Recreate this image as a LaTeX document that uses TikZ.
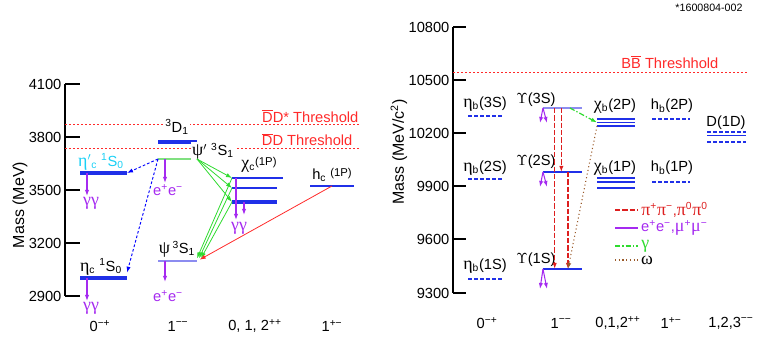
\documentclass[tikz,border=0pt]{standalone}
\usepackage{fontspec}
\setmainfont{Liberation Sans}
\newfontfamily\grk[Scale=1.22]{Liberation Serif}
\usepackage{tikz}
\usetikzlibrary{arrows.meta,calc}
\definecolor{lvl}{HTML}{2030E8}
\definecolor{lvllt}{HTML}{8C8CF0}
\definecolor{lvlgr}{HTML}{80E080}
\definecolor{cy}{HTML}{19D0F5}
\definecolor{vio}{HTML}{A52AF0}
\definecolor{rd}{HTML}{FF2A2A}
\definecolor{drd}{HTML}{DD1F1F}
\definecolor{grn}{HTML}{2EDB2E}
\definecolor{brn}{HTML}{9A5A2A}
\newcommand{\gk}[1]{{\grk #1}}
\newcommand{\lvl}[5][bar]{%
  \coordinate (#2-w) at (#3,#5); \coordinate (#2-e) at (#4,#5);
  \draw[#1] (#2-w) -- (#2-e);}
\tikzset{
  >={Latex[length=4.5pt,width=3.2pt]},
  bar/.style={draw=lvl,line width=1.4pt},
  tbar/.style={bar,line width=2.6pt},
  hbar/.style={bar,line width=1.1pt},
  gbar/.style={draw=lvlgr,line width=1pt},
  ubar/.style={draw=lvllt,line width=1.1pt},
  dbar/.style={bar,line width=1.2pt,dash pattern=on 3pt off 1.5pt},
  lab/.style={font=\fontsize{11}{12}\selectfont,inner sep=1pt},
  wlab/.style={lab,fill=white},
  vlab/.style={lab,text=vio},
  leg/.style={lab,right,inner sep=0pt,xshift=2pt},
  tick/.style={font=\fontsize{11}{12}\selectfont,anchor=east,inner sep=1pt},
  ttl/.style={font=\fontsize{12}{13}\selectfont,rotate=90},
  axis/.style={draw=black,line width=0.8pt},
  thr/.style={draw=rd,line width=0.7pt,dash pattern=on 1.5pt off 1.5pt},
  varr/.style={->,draw=vio,line width=0.8pt},
  garr/.style={->,draw=grn,line width=0.6pt},
  rarr/.style={->,draw=rd,line width=0.6pt},
  barr/.style={->,draw=blue,line width=0.7pt,dash pattern=on 2pt off 1.5pt},
  parr/.style={->,draw=drd,line width=1.1pt,dash pattern=on 4pt off 1.5pt},
  gdarr/.style={->,draw=grn,line width=0.9pt,dash pattern=on 4pt off 1.5pt on 1pt off 1.5pt},
  warr/.style={->,draw=brn,line width=0.8pt,dotted},
}
\begin{document}
\begin{tikzpicture}[x=0.75pt,y=-0.75pt]
\useasboundingbox (0,0) rectangle (761,341);
% charmonium
\draw[axis] (65,84) -- (65,296);
\foreach \m/\y in {4100/84,3800/137,3500/190,3200/243,2900/296}
  {\draw[axis] (65,\y) -- (80,\y); \node[tick] (lt\m) at (63,\y) {\m};}
\node[ttl] (ytl) at (20,205) {Mass (MeV)};
\draw[thr] (65,124) -- (360,124) coordinate (t1);
\draw[thr] (65,148) -- (360,148) coordinate (t2);
\node[lab,text=rd,anchor=base east] (t1L) at (360,122.5) {$\overline{\mbox{D}}$D* Threshold};
\node[lab,text=rd,anchor=base east] (t2L) at (354,146) {$\overline{\mbox{D}}$D Threshold};
\lvl[tbar]{etacp}{80}{127}{173}
\lvl[tbar]{etac}{80}{127}{278}
\lvl[tbar]{dd}{158}{197}{142}
\lvl[gbar]{psip}{158}{197}{159}
\lvl[ubar]{psi}{158}{197}{261}
\lvl{chi2}{232}{283}{178}
\lvl{chi1}{232}{277}{188}
\lvl[tbar]{chi0}{232}{277}{202}
\lvl{hc}{310}{354}{186}
\node[lab,text=cy] (etacpL) at (101,162) {\gk{η}$'$\textsubscript{c} \textsuperscript{1}S\textsubscript{0}};
\node[lab] (etacL) at (101,267) {\gk{η}\textsubscript{c} \textsuperscript{1}S\textsubscript{0}};
\node[wlab] (ddL) at (177,127) {\textsuperscript{3}D\textsubscript{1}};
\node[wlab] (psipL) at (213,151) {\gk{ψ}$'$ \textsuperscript{3}S\textsubscript{1}};
\node[lab] (psiL) at (177,249) {\gk{ψ}\,\textsuperscript{3}S\textsubscript{1}};
\node[lab] (chiL) at (259,165) {\gk{χ}\textsubscript{c}\raisebox{2pt}{\fontsize{8.5}{9}\selectfont(1P)}};
\node[lab] (hcL) at (332,175) {h\textsubscript{c} \raisebox{2pt}{\fontsize{8.5}{9}\selectfont(1P)}};
\draw[varr] (etacp-w) ++(7,0) -- ++(0,23);
\node[vlab] (gg1) at (91,203) {\gk{γγ}};
\draw[varr] (etac-w) ++(7,0) -- ++(0,23);
\node[vlab] (gg2) at (91,308) {\gk{γγ}};
\draw[varr] (psip-w) ++(7,0) -- ++(0,24);
\node[vlab] (ee1) at (168,190) {e\textsuperscript{+}e\textsuperscript{−}};
\draw[varr] (psi-w) ++(7,0) -- ++(0,21);
\node[vlab] (ee2) at (168,296) {e\textsuperscript{+}e\textsuperscript{−}};
\draw[varr] (chi2-w) ++(4,0) -- ++(0,42);
\draw[varr] (chi0-w) ++(12,0) -- ++(0,13);
\node[vlab] (gg3) at (239,228) {\gk{γγ}};
\foreach \c in {chi2,chi1,chi0} \draw[garr] (psip-e) -- (\c-w);
\foreach \c/\s in {chi2/0,chi1/1.5,chi0/3} \draw[garr] (\c-w) -- ([xshift=\s pt,yshift=2pt]psi-e);
\draw[rarr] ($(hc-w)!.5!(hc-e)$) -- ([xshift=2pt,yshift=1pt]psi-e);
\draw[barr] (psip-w) -- (etacp-e);
\draw[barr] (psip-w) -- ([yshift=4pt]etac-e);
\node[lab] (jl1) at (100,326) {0\textsuperscript{−+}};
\node[lab] (jl2) at (178,326) {1\textsuperscript{−−}};
\node[lab] (jl3) at (255,326) {0, 1, 2\textsuperscript{++}};
\node[lab] (jl4) at (332,326) {1\textsuperscript{+−}};
% bottomonium
\node[font=\fontsize{8}{9}\selectfont] (tag) at (709,8) {*1600804-002};
\draw[axis] (453,27) -- (453,293);
\foreach \m/\y in {10800/27,10500/80,10200/133,9900/186,9600/239,9300/293}
  {\draw[axis] (453,\y) -- (466,\y); \node[tick] (rt\m) at (451,\y) {\m};}
\node[ttl] (ytr) at (399,152) {Mass (MeV/c\textsuperscript{2})};
\draw[thr] (453,72) -- (747,72) coordinate (t3);
\node[lab,text=rd,anchor=base east] (t3L) at (720,68.5) {B$\overline{\mbox{B}}$ Threshhold};
\lvl[ubar]{Y3}{543}{582}{108}
\lvl[hbar]{Y2}{543}{582}{172}
\lvl[hbar]{Y1}{543}{582}{269}
\lvl[dbar]{eb3}{468}{504}{116}
\lvl[dbar]{eb2}{468}{504}{179}
\lvl[dbar]{eb1}{468}{504}{279}
\lvl[hbar]{cb2a}{597}{635}{119}
\lvl[hbar]{cb2b}{597}{635}{122.5}
\lvl[hbar]{cb2c}{597}{635}{126}
\lvl[hbar]{cb1a}{597}{635}{178}
\lvl[hbar]{cb1b}{597}{635}{182}
\lvl[hbar]{cb1c}{597}{635}{188}
\lvl[dbar]{hb2}{652}{690}{119}
\lvl[dbar]{hb1}{652}{690}{182}
\lvl[dbar]{d1a}{707}{746}{132}
\lvl[hbar]{d1b}{707}{746}{135.5}
\lvl[dbar]{d1c}{707}{746}{142}
\node[lab] (Y3L) at (536,100) {$\Upsilon$(3S)};
\node[lab] (Y2L) at (536,162) {$\Upsilon$(2S)};
\node[lab] (Y1L) at (536,260) {$\Upsilon$(1S)};
\node[lab] (eb3L) at (485,104) {\gk{η}\textsubscript{b}(3S)};
\node[lab] (eb2L) at (485,168) {\gk{η}\textsubscript{b}(2S)};
\node[lab] (eb1L) at (485,266) {\gk{η}\textsubscript{b}(1S)};
\node[lab] (cb2L) at (615,106) {\gk{χ}\textsubscript{b}(2P)};
\node[lab] (cb1L) at (615,168) {\gk{χ}\textsubscript{b}(1P)};
\node[lab] (hb2L) at (672,106) {h\textsubscript{b}(2P)};
\node[lab] (hb1L) at (672,168) {h\textsubscript{b}(1P)};
\node[lab] (d1L) at (726,123) {D(1D)};
\draw[parr] ($(Y3-w)!.3!(Y3-e)$) -- ($(Y1-w)!.3!(Y1-e)$);
\draw[parr] ($(Y3-w)!.47!(Y3-e)$) -- ($(Y2-w)!.47!(Y2-e)$);
\draw[parr] ($(Y2-w)!.64!(Y2-e)$) -- ($(Y1-w)!.64!(Y1-e)$);
\draw[gdarr] ($(Y3-w)!.69!(Y3-e)$) -- (cb2b-w);
\draw[warr] (cb2c-w) -- ($(Y1-w)!.64!(Y1-e)$);
\foreach \u/\l in {Y3/15,Y2/15,Y1/20}
  {\draw[varr] (\u-w) -- ++(-3,\l); \draw[varr] (\u-w) -- ++(4,\l);}
\draw[parr,-] (615,210) -- (638,210) node[leg,text=drd] (lg1) {\gk{π}\textsuperscript{+}\gk{π}\textsuperscript{−},\gk{π}\textsuperscript{0}\gk{π}\textsuperscript{0}};
\draw[varr,-] (615,228) -- (638,228) node[leg,text=vio] (lg2) {e\textsuperscript{+}e\textsuperscript{−},\gk{μ}\textsuperscript{+}\gk{μ}\textsuperscript{−}};
\draw[gdarr,-] (615,246) -- (638,246) node[leg,text=grn] (lg3) {\gk{γ}};
\draw[warr,-] (615,260) -- (638,260) node[leg,text=black] (lg4) {\gk{ω}};
\node[lab] (jr1) at (487,323) {0\textsuperscript{−+}};
\node[lab] (jr2) at (561,323) {1\textsuperscript{−−}};
\node[lab] (jr3) at (618,323) {0,1,2\textsuperscript{++}};
\node[lab] (jr4) at (671,323) {1\textsuperscript{+−}};
\node[lab] (jr5) at (731,323) {1,2,3\textsuperscript{−−}};
\end{tikzpicture}
\end{document}
